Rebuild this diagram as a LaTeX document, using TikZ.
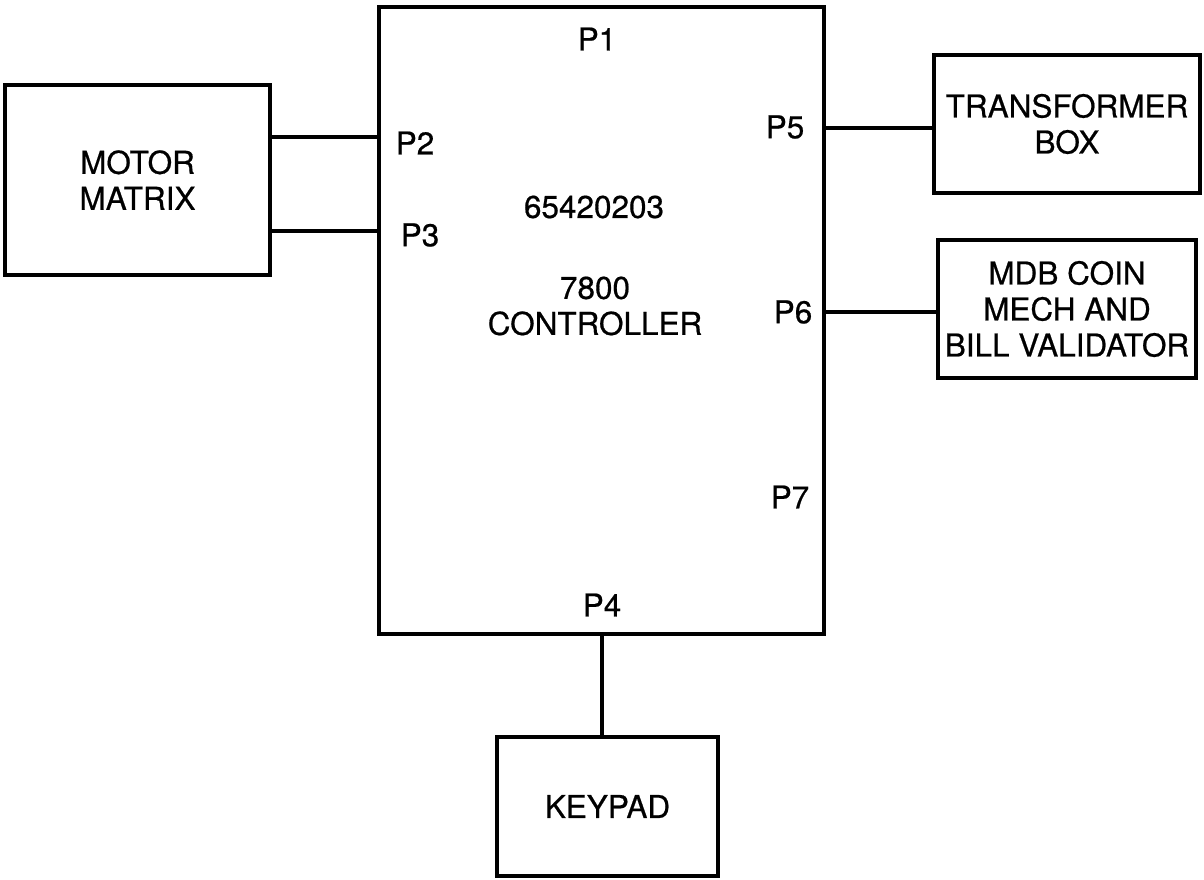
\documentclass[tikz,border=0pt]{standalone}
\usepackage{fontspec}
\setmainfont{TeX Gyre Heros}[FakeBold=0.6]
\begin{document}
\begin{tikzpicture}[x=1pt,y=-1pt,line width=3.5pt,
  box/.style={draw,rectangle,inner sep=0pt,outer sep=0pt,align=center,font=\fontsize{31.5}{36}\selectfont},
  lbl/.style={inner sep=0pt,align=center,font=\fontsize{31.5}{36}\selectfont},
  wire/.style={line width=3.5pt}]
\useasboundingbox (0,0) rectangle (1204,880);
% boxes
\node[box,minimum width=445pt,minimum height=627pt] (ctrl) at (601.5,320.5) {};
\node[box,minimum width=265pt,minimum height=190pt] (mm) at (137.5,180) {MOTOR\\MATRIX};
\node[box,minimum width=266pt,minimum height=138pt] (tb) at (1067,124) {TRANSFORMER\\BOX};
\node[box,minimum width=258pt,minimum height=138pt] (mdb) at (1067,309) {MDB COIN\\MECH AND\\BILL VALIDATOR};
\node[box,minimum width=221pt,minimum height=139pt] (kp) at (607.5,806.5) {KEYPAD};
% controller texts
\node[lbl] (pn) at (594,207) {65420203};
\node[lbl] (name) at (595,306) {7800\\CONTROLLER};
\node[lbl] (p1) at (597,39) {P1};
\node[lbl] (p2) at (415,143) {P2};
\node[lbl] (p3) at (420,235) {P3};
\node[lbl] (p5) at (785,127) {P5};
\node[lbl] (p6) at (793,312) {P6};
\node[lbl] (p7) at (790,497) {P7};
\node[lbl] (p4) at (602,605) {P4};
% connection levels
\coordinate (y2) at (0,137);
\coordinate (y3) at (0,231);
\coordinate (y5) at (0,128);
\coordinate (y6) at (0,312);
\coordinate (x4) at (602,0);
% connectors
\draw[wire] (mm.east |- y2) -- (ctrl.west |- y2);
\draw[wire] (mm.east |- y3) -- (ctrl.west |- y3);
\draw[wire] (ctrl.east |- y5) -- (tb.west |- y5);
\draw[wire] (ctrl.east |- y6) -- (mdb.west |- y6);
\draw[wire] (ctrl.south -| x4) -- (kp.north -| x4);
\end{tikzpicture}
\end{document}
